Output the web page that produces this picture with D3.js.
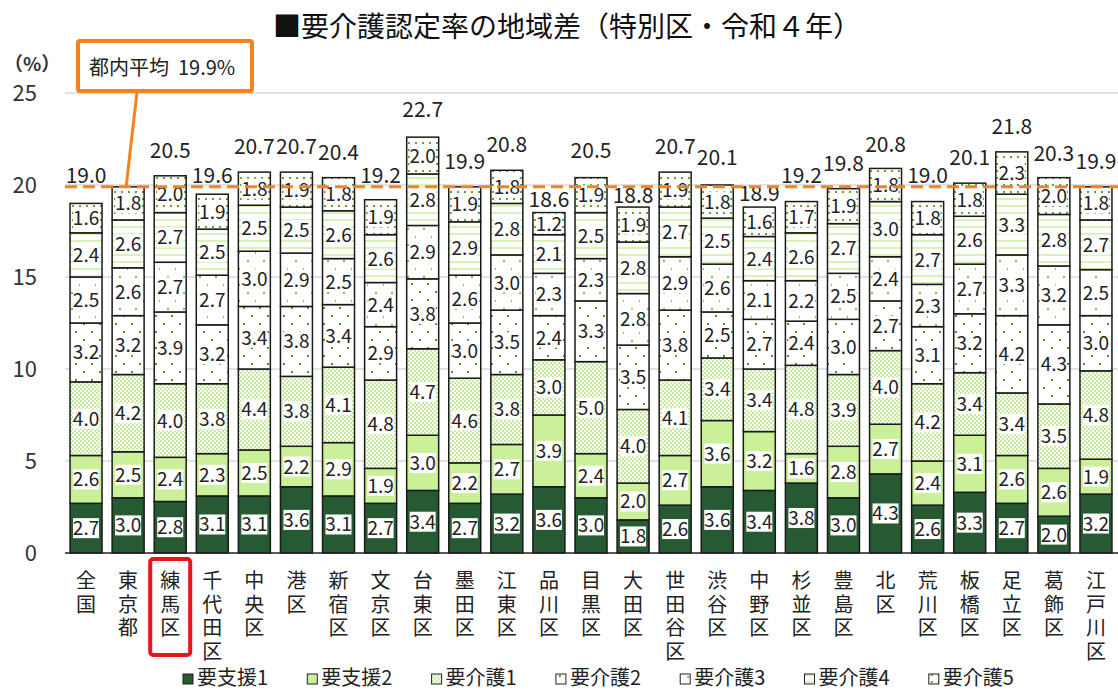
<!DOCTYPE html>
<html>
<head>
<meta charset="utf-8">
<script src="https://cdn.jsdelivr.net/npm/d3@7"></script>
<style>
  body { margin: 0; background: #fff; }
  svg { font-family: "Noto Sans CJK JP", "Noto Sans", sans-serif; }
</style>
</head>
<body>
<div id="chart"></div>
<script>
// categories and values (bottom to top: 要支援1 ... 要介護5)
const categories = ["全国","東京都","練馬区","千代田区","中央区","港区","新宿区","文京区","台東区","墨田区","江東区","品川区","目黒区","大田区","世田谷区","渋谷区","中野区","杉並区","豊島区","北区","荒川区","板橋区","足立区","葛飾区","江戸川区"];
const seriesNames = ["要支援1","要支援2","要介護1","要介護2","要介護3","要介護4","要介護5"];
const shien1 = [2.7,3.0,2.8,3.1,3.1,3.6,3.1,2.7,3.4,2.7,3.2,3.6,3.0,1.8,2.6,3.6,3.4,3.8,3.0,4.3,2.6,3.3,2.7,2.0,3.2];
const shien2 = [2.6,2.5,2.4,2.3,2.5,2.2,2.9,1.9,3.0,2.2,2.7,3.9,2.4,2.0,2.7,3.6,3.2,1.6,2.8,2.7,2.4,3.1,2.6,2.6,1.9];
const kaigo1 = [4.0,4.2,4.0,3.8,4.4,3.8,4.1,4.8,4.7,4.6,3.8,3.0,5.0,4.0,4.1,3.4,3.4,4.8,3.9,4.0,4.2,3.4,3.4,3.5,4.8];
const kaigo2 = [3.2,3.2,3.9,3.2,3.4,3.8,3.4,2.9,3.8,3.0,3.5,2.4,3.3,3.5,3.8,2.5,2.7,2.4,3.0,2.7,3.1,3.2,4.2,4.3,3.0];
const kaigo3 = [2.5,2.6,2.7,2.7,3.0,2.9,2.5,2.4,2.9,2.6,3.0,2.3,2.3,2.8,2.9,2.6,2.1,2.2,2.5,2.4,2.3,2.7,3.3,3.2,2.5];
const kaigo4 = [2.4,2.6,2.7,2.5,2.5,2.5,2.6,2.6,2.8,2.9,2.8,2.1,2.5,2.8,2.7,2.5,2.4,2.6,2.7,3.0,2.7,2.6,3.3,2.8,2.7];
const kaigo5 = [1.6,1.8,2.0,1.9,1.8,1.9,1.8,1.9,2.0,1.9,1.8,1.2,1.9,1.9,1.9,1.8,1.6,1.7,1.9,1.8,1.8,1.8,2.3,2.0,1.8];
const totals = [19.0,19.9,20.5,19.6,20.7,20.7,20.4,19.2,22.7,19.9,20.8,18.6,20.5,18.8,20.7,20.1,18.9,19.2,19.8,20.8,19.0,20.1,21.8,20.3,19.9];
const tokyoAverage = 19.9;
const averageCategory = "東京都";
const yTicks = [0,5,10,15,20,25];
const highlight = "練馬区";

const W = 1118, H = 690;
const margin = {top: 93, right: 1, bottom: 137, left: 65};

const svg = d3.select("#chart").append("svg")
  .attr("width", W).attr("height", H);

// patterns
const defs = svg.append("defs");
function pat(id, w, h) {
  const p = defs.append("pattern").attr("id", id)
    .attr("patternUnits", "userSpaceOnUse").attr("width", w).attr("height", h);
  p.append("rect").attr("width", w).attr("height", h).attr("fill", "#fff");
  return p;
}
let p = pat("k1", 4, 4);
p.append("rect").attr("x", 0).attr("y", 0).attr("width", 2).attr("height", 2).attr("fill", "#c6eb9c");
p.append("rect").attr("x", 2).attr("y", 2).attr("width", 2).attr("height", 2).attr("fill", "#c6eb9c");
p = pat("k2", 16, 16);
p.append("rect").attr("x", 3).attr("y", 3).attr("width", 2).attr("height", 2).attr("fill", "#5d9130");
p.append("rect").attr("x", 11).attr("y", 11).attr("width", 2).attr("height", 2).attr("fill", "#5d9130");
p = pat("k3", 16, 16);
p.append("rect").attr("x", 7).attr("y", 4).attr("width", 2).attr("height", 2).attr("fill", "#86bb4c");
p.append("rect").attr("x", 15).attr("y", 12).attr("width", 2).attr("height", 2).attr("fill", "#86bb4c");
p = pat("k4", 8, 7);
p.append("rect").attr("x", 0).attr("y", 2).attr("width", 8).attr("height", 2).attr("fill", "#d8f2b8");
p = pat("k5", 7, 7);
p.append("rect").attr("x", 2).attr("y", 2).attr("width", 2).attr("height", 2).attr("fill", "#66a033");

const fills = ["#265a33", "#caf09a", "url(#k1)", "url(#k2)", "url(#k3)", "url(#k4)", "url(#k5)"];
const seriesValues = [shien1, shien2, kaigo1, kaigo2, kaigo3, kaigo4, kaigo5];

const rows = categories.map((c, i) => {
  const r = {cat: c};
  seriesNames.forEach((s, j) => r[s] = seriesValues[j][i]);
  return r;
});
const stacked = d3.stack().keys(seriesNames)(rows);

const x = d3.scaleBand().domain(categories)
  .range([margin.left, W - margin.right]).paddingInner(0.24).paddingOuter(0.12);
const y = d3.scaleLinear().domain([0, 25]).range([H - margin.bottom, margin.top]);

// title
svg.append("text").attr("x", 567).attr("y", 37).attr("text-anchor", "middle")
  .attr("font-size", 28).attr("fill", "#111")
  .text("■要介護認定率の地域差（特別区・令和４年）");

// gridlines
svg.append("g").selectAll("line").data(yTicks.filter(d => d > 0)).join("line")
  .attr("x1", margin.left).attr("x2", W)
  .attr("y1", d => y(d)).attr("y2", d => y(d))
  .attr("stroke", "#d9d9d9").attr("stroke-width", 1.5);

// y tick labels
svg.append("g").selectAll("text").data(yTicks).join("text")
  .attr("x", 37).attr("y", d => y(d) + 8).attr("text-anchor", "end")
  .attr("font-size", 22).attr("fill", "#333").text(d => d);
svg.append("text").attr("x", 4).attr("y", 71).attr("font-size", 19).attr("font-weight", "bold")
  .attr("fill", "#333").text("（%）");

// bars
const layer = svg.append("g").selectAll("g").data(stacked).join("g")
  .attr("fill", (d, i) => fills[i]);
layer.selectAll("rect").data(d => d).join("rect")
  .attr("x", d => x(d.data.cat))
  .attr("y", d => y(d[1]))
  .attr("width", x.bandwidth())
  .attr("height", d => y(d[0]) - y(d[1]))
  .attr("stroke", "#1a1a1a").attr("stroke-width", 1.5);

// segment labels with white background
const lab = svg.append("g").selectAll("g").data(stacked).join("g")
  .selectAll("g").data(d => d.map(v => ({v: v, key: d.key}))).join("g")
  .attr("transform", d => `translate(${x(d.v.data.cat) + x.bandwidth() / 2},${(y(d.v[0]) + y(d.v[1])) / 2})`);
lab.append("rect").attr("x", -13).attr("y", -10).attr("width", 26).attr("height", 20).attr("fill", "#fff");
lab.append("text").attr("text-anchor", "middle").attr("y", 7)
  .attr("font-size", 19).attr("fill", "#222")
  .text(d => (d.v.data[d.key]).toFixed(1));

// totals (the average category is labelled by the callout instead)
function totalY(t) {
  if (t >= 19.8) return y(t) - 18;
  if (t >= 19) return y(tokyoAverage) - 4;
  return y(t) - 4;
}
svg.append("g").selectAll("text").data(categories.map((c, i) => ({cat: c, t: totals[i]})).filter(d => d.cat !== averageCategory))
  .join("text")
  .attr("x", d => x(d.cat) + x.bandwidth() / 2)
  .attr("y", d => totalY(d.t))
  .attr("text-anchor", "middle").attr("font-size", 21).attr("fill", "#222")
  .text(d => d.t.toFixed(1));

// baseline
svg.append("line").attr("x1", margin.left).attr("x2", W)
  .attr("y1", y(0)).attr("y2", y(0)).attr("stroke", "#222").attr("stroke-width", 1.5);

// average line
svg.append("line").attr("x1", margin.left).attr("x2", W)
  .attr("y1", y(tokyoAverage)).attr("y2", y(tokyoAverage))
  .attr("stroke", "#f5821f").attr("stroke-width", 3).attr("stroke-dasharray", "12,6");

// callout
svg.append("line").attr("x1", 137).attr("y1", 92)
  .attr("x2", x(averageCategory) + 14).attr("y2", y(tokyoAverage))
  .attr("stroke", "#f5821f").attr("stroke-width", 3);
svg.append("rect").attr("x", 78).attr("y", 41).attr("width", 174).attr("height", 50).attr("rx", 2)
  .attr("fill", "#fff").attr("stroke", "#f5821f").attr("stroke-width", 4);
const callout = svg.append("text").attr("x", 89).attr("y", 75).attr("font-size", 20).attr("fill", "#222");
callout.append("tspan").text("都内平均");
callout.append("tspan").attr("dx", 9).text(tokyoAverage.toFixed(1) + "%");

// category labels (vertical)
const cat = svg.append("g").selectAll("text").data(categories).join("text")
  .attr("text-anchor", "middle").attr("font-size", 20).attr("fill", "#222");
cat.selectAll("tspan").data(d => d.split("").map(ch => ({ch: ch, cat: d}))).join("tspan")
  .attr("x", d => x(d.cat) + x.bandwidth() / 2)
  .attr("y", (d, i) => 588 + i * 23.7)
  .text(d => d.ch);

// highlight box
svg.append("rect").attr("x", x(highlight) - 4).attr("y", 559)
  .attr("width", x.bandwidth() + 8).attr("height", 96).attr("rx", 3)
  .attr("fill", "none").attr("stroke", "#e8141c").attr("stroke-width", 4);

// legend
const leg = svg.append("g").selectAll("g").data(seriesNames).join("g")
  .attr("transform", (d, i) => `translate(${183 + i * 124.3},0)`);
leg.append("rect").attr("x", 0).attr("y", 674).attr("width", 10).attr("height", 10)
  .attr("fill", (d, i) => fills[i]).attr("stroke", "#222").attr("stroke-width", 1);
leg.append("text").attr("x", 14).attr("y", 685).attr("font-size", 20).attr("fill", "#222")
  .text(d => d);
</script>
</body>
</html>
